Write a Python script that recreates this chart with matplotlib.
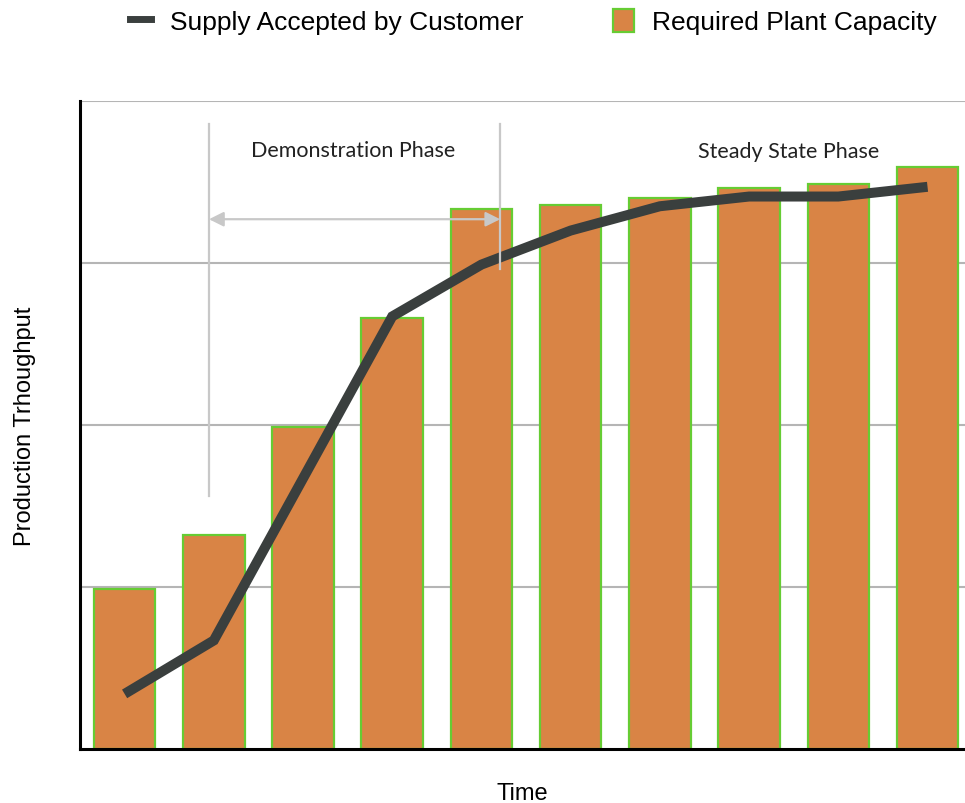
import matplotlib.pyplot as plt
from matplotlib.lines import Line2D
from matplotlib.patches import Patch

plt.rcParams['font.family'] = ['Liberation Sans', 'DejaVu Sans']

# Data (units = gridline steps)
periods = list(range(10))
capacity = [0.99, 1.32, 1.99, 2.66, 3.33, 3.36, 3.40, 3.46, 3.49, 3.59]
supply = [0.34, 0.67, 1.67, 2.67, 2.99, 3.20, 3.35, 3.41, 3.41, 3.47]

fig = plt.figure(figsize=(9.65, 8.04), dpi=100)
ax = fig.add_axes([0.0829, 0.0672, 0.9171, 0.806])

ax.bar(periods, capacity, width=0.69, color='#d98445', edgecolor='#66cc33',
       linewidth=1.6, zorder=2)
ax.plot(periods, supply, color='#3a3f3e', linewidth=7.2, zorder=3,
        solid_capstyle='butt', solid_joinstyle='miter')

ax.set_xlim(-0.5, 9.42)
ax.set_ylim(0, 4)
ax.set_yticks([1, 2, 3, 4])
ax.set_xticks([])
ax.tick_params(axis='y', length=0, labelleft=False)
ax.grid(axis='y', color='#b5b5b5', linewidth=1.5, zorder=0)
ax.set_axisbelow(True)
for s in ['top', 'right']:
    ax.spines[s].set_visible(False)
for s in ['left', 'bottom']:
    ax.spines[s].set_linewidth(2.2)
    ax.spines[s].set_color('black')

# phase annotations
x_left, x_right = 0.946, 4.21
ax.plot([x_left, x_left], [1.56, 3.86], color='#c8c8c8', linewidth=1.6, zorder=4)
ax.plot([x_right, x_right], [2.96, 3.86], color='#c8c8c8', linewidth=1.6, zorder=4)
ax.annotate('', xy=(x_left, 3.27), xytext=(x_right, 3.27),
            arrowprops=dict(arrowstyle='<|-|>', color='#c8c8c8', lw=1.6,
                            mutation_scale=22, shrinkA=0, shrinkB=0), zorder=4)
ax.text(2.56, 3.70, 'Demonstration Phase', ha='center', va='center',
        fontsize=15.5, family=['Lato', 'DejaVu Sans'], color='#222222')
ax.text(7.44, 3.69, 'Steady State Phase', ha='center', va='center',
        fontsize=15.5, family=['Lato', 'DejaVu Sans'], color='#222222')

ax.set_xlabel('Time', fontsize=17, labelpad=24)
ax.set_ylabel('Production Trhoughput', fontsize=17, labelpad=32)

handles = [Line2D([0], [0], color='#3a3f3e', linewidth=5),
           Patch(facecolor='#d98445', edgecolor='#66cc33', linewidth=1.6)]
fig.legend(handles, ['Supply Accepted by Customer', 'Required Plant Capacity'],
           loc='center', bbox_to_anchor=(0.553, 0.972), ncol=2, frameon=False,
           fontsize=19, handlelength=0.8, handleheight=1.0,
           columnspacing=3.4, handletextpad=0.7)

fig.savefig('out.png', dpi=100)
